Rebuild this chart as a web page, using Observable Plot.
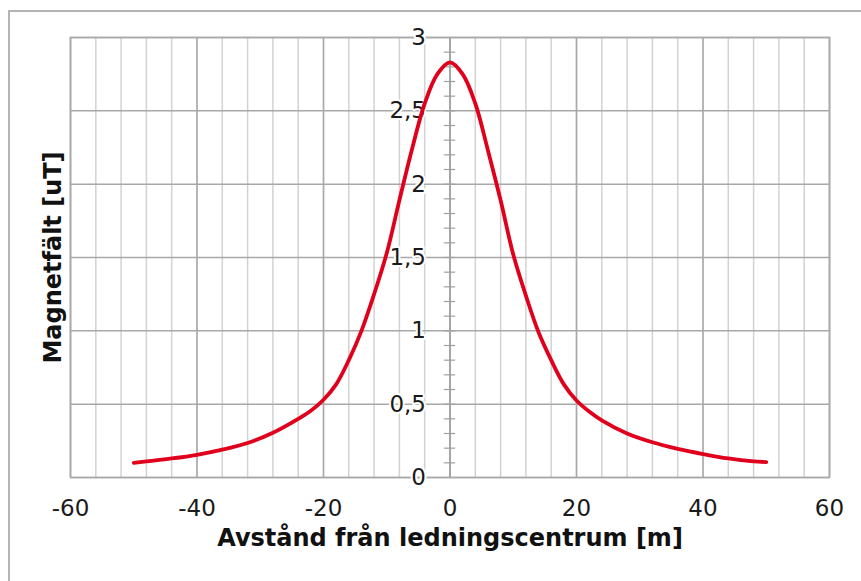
<!DOCTYPE html>
<html>
<head>
<meta charset="utf-8">
<script src="https://cdn.jsdelivr.net/npm/d3@7"></script>
<script src="https://cdn.jsdelivr.net/npm/@observablehq/plot@0.6"></script>
<style>
  html, body { margin: 0; padding: 0; background: #fff; }
  #wrap { position: relative; width: 861px; height: 581px; overflow: hidden; }
  #border { position: absolute; left: 8px; top: 10px; width: 900px; height: 700px;
            border-left: 2px solid #b4b4b4; border-top: 2px solid #b4b4b4; box-sizing: border-box; }
  #chart { position: absolute; left: 0; top: 0; }
</style>
</head>
<body>
<div id="wrap"><div id="border"></div><div id="chart"></div></div>
<script>
const distance = [-50, -48, -44, -40, -36, -32, -28, -24, -22, -20, -18, -16, -14, -12, -10, -8, -6, -4, -2, 0,
                  2, 4, 6, 8, 10, 12, 14, 16, 18, 20, 22, 24, 28, 32, 36, 40, 44, 48, 50];
const field = [0.10, 0.11, 0.13, 0.155, 0.19, 0.235, 0.305, 0.40, 0.455, 0.53, 0.635, 0.80, 1.00, 1.25, 1.53, 1.89, 2.24, 2.55, 2.75, 2.83,
               2.75, 2.55, 2.23, 1.89, 1.52, 1.24, 0.99, 0.80, 0.635, 0.525, 0.45, 0.39, 0.30, 0.24, 0.195, 0.16, 0.13, 0.11, 0.105];
const xTicks = [-60, -40, -20, 0, 20, 40, 60];
const xMinorGrid = d3.range(-60, 61, 4);
const yTicks = [0, 0.5, 1, 1.5, 2, 2.5, 3];
const yMinor = d3.range(1, 30).map(i => i / 10);
const xTitle = "Avstånd från ledningscentrum [m]";
const yTitle = "Magnetfält [uT]";

const data = distance.map((x, i) => ({x, y: field[i]}));
const fmt = v => String(v).replace(".", ",");
const font = "DejaVu Sans, Verdana, sans-serif";

const chart = Plot.plot({
  width: 861,
  height: 581,
  marginLeft: 70,
  marginRight: 32,
  marginTop: 37,
  marginBottom: 104,
  style: {fontFamily: font, background: "transparent", overflow: "visible"},
  x: {domain: [-60, 60], axis: null},
  y: {domain: [0, 3], axis: null},
  marks: [
    Plot.ruleX(xMinorGrid, {stroke: "#d2d2d2", strokeWidth: 1.5}),
    Plot.ruleX(xTicks, {stroke: "#a8a8a8", strokeWidth: 1.5}),
    Plot.ruleY(yTicks, {stroke: "#a8a8a8", strokeWidth: 1.5}),
    Plot.frame({stroke: "#a8a8a8", strokeWidth: 1.5}),
    Plot.ruleX([0], {stroke: "#a0a0a0", strokeWidth: 1.5}),
    Plot.ruleY(yMinor, {x1: -0.9, x2: 0.9, stroke: "#a0a0a0", strokeWidth: 1.2}),
    Plot.text(xTicks, {x: d => d, frameAnchor: "bottom", textAnchor: "middle", lineAnchor: "middle", dy: 31, text: d => String(d), fontSize: 23, fill: "#1a1a1a"}),
    Plot.text(yTicks, {x: 0, y: d => d, text: d => fmt(d), textAnchor: "end", dx: -24, fontSize: 23, fill: "#1a1a1a", stroke: "white", strokeWidth: 4, paintOrder: "stroke"}),
    Plot.line(data, {x: "x", y: "y", curve: "catmull-rom", stroke: "#e0001c", strokeWidth: 3.8}),
    Plot.text([xTitle], {frameAnchor: "bottom", dy: 68, text: d => d, fontSize: 24, fontWeight: "bold", fill: "#111"}),
    Plot.text([yTitle], {frameAnchor: "left", textAnchor: "middle", dx: -17, rotate: -90, text: d => d, fontSize: 24, fontWeight: "bold", fill: "#111"})
  ]
});
document.getElementById("chart").appendChild(chart);
</script>
</body>
</html>
